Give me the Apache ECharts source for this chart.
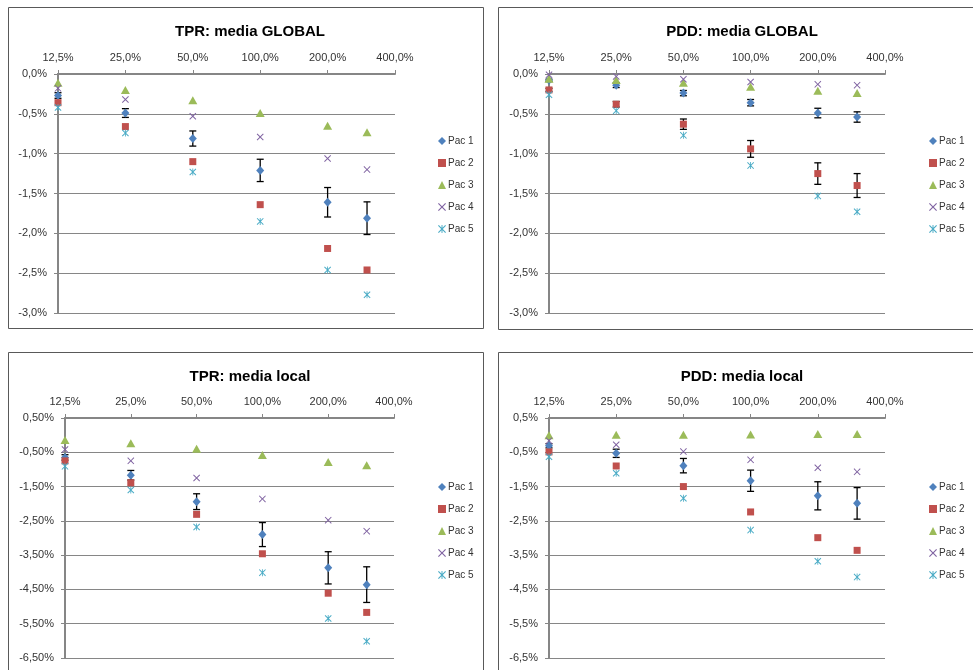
<!DOCTYPE html>
<html>
<head>
<meta charset="utf-8">
<script src="https://cdn.jsdelivr.net/npm/echarts@6/dist/echarts.min.js"></script>
<style>
  html, body { margin: 0; padding: 0; background: #fff; }
  #chart { width: 973px; height: 670px; }
</style>
</head>
<body>
<div id="chart"></div>
<script>
// Dose levels (% of reference) where each patient was measured
const doses = [12.5, 25, 50, 100, 200, 300];
const xTickValues = [12.5, 25, 50, 100, 200, 400];
const seriesNames = ['Pac 1', 'Pac 2', 'Pac 3', 'Pac 4', 'Pac 5'];
const yTicksGlobal = [-3, -2.5, -2, -1.5, -1, -0.5, 0];
const yTicksLocal = [-6.5, -5.5, -4.5, -3.5, -2.5, -1.5, -0.5, 0.5];

// TPR, global mean (%)
const tprGlobalPac1 = [-0.27, -0.49, -0.81, -1.21, -1.61, -1.81];
const tprGlobalPac1Err = [0.035, 0.055, 0.095, 0.14, 0.185, 0.205];
const tprGlobalPac2 = [-0.36, -0.66, -1.10, -1.64, -2.19, -2.46];
const tprGlobalPac3 = [-0.11, -0.20, -0.33, -0.49, -0.65, -0.73];
const tprGlobalPac4 = [-0.18, -0.32, -0.53, -0.79, -1.06, -1.20];
const tprGlobalPac5 = [-0.42, -0.74, -1.23, -1.85, -2.46, -2.77];

// PDD, global mean (%)
const pddGlobalPac1 = [-0.08, -0.14, -0.24, -0.36, -0.49, -0.54];
const pddGlobalPac1Err = [0.015, 0.03, 0.033, 0.04, 0.06, 0.065];
const pddGlobalPac2 = [-0.20, -0.38, -0.63, -0.94, -1.25, -1.40];
const pddGlobalPac2Err = [0.02, 0.035, 0.065, 0.105, 0.135, 0.15];
const pddGlobalPac3 = [-0.06, -0.075, -0.11, -0.16, -0.21, -0.24];
const pddGlobalPac4 = [-0.01, -0.03, -0.065, -0.10, -0.13, -0.14];
const pddGlobalPac5 = [-0.26, -0.46, -0.77, -1.15, -1.53, -1.73];

// TPR, local mean (%)
const tprLocalPac1 = [-0.65, -1.17, -1.94, -2.90, -3.87, -4.36];
const tprLocalPac1Err = [0.08, 0.14, 0.23, 0.35, 0.47, 0.52];
const tprLocalPac2 = [-0.75, -1.39, -2.31, -3.46, -4.61, -5.17];
const tprLocalPac3 = [-0.14, -0.24, -0.40, -0.58, -0.78, -0.88];
const tprLocalPac4 = [-0.42, -0.75, -1.25, -1.86, -2.48, -2.80];
const tprLocalPac5 = [-0.91, -1.60, -2.68, -4.01, -5.35, -6.01];

// PDD, local mean (%)
const pddLocalPac1 = [-0.31, -0.53, -0.89, -1.33, -1.77, -1.99];
const pddLocalPac1Err = [0.06, 0.12, 0.21, 0.31, 0.41, 0.46];
const pddLocalPac2 = [-0.49, -0.90, -1.50, -2.24, -2.99, -3.36];
const pddLocalPac3 = [0.00, 0.01, 0.01, 0.02, 0.03, 0.03];
const pddLocalPac4 = [-0.16, -0.28, -0.48, -0.72, -0.95, -1.07];
const pddLocalPac5 = [-0.63, -1.11, -1.84, -2.77, -3.68, -4.14];

const FONT = '"Liberation Sans", Arial, sans-serif';
const AXIS_GRAY = '#868686';
const TEXT_GRAY = '#333333';

const colors = ['#4F81BD', '#C0504D', '#9BBB59', '#8064A2', '#4BACC6'];
const CROSS = 'path://M1,0L5,4L9,0L10,1L6,5L10,9L9,10L5,6L1,10L0,9L4,5L0,1Z';
const STAR = 'path://M1,0L5,4L9,0L10,1L6,5L10,9L9,10L5,6L1,10L0,9L4,5L0,1Z M4.4,0H5.6V10H4.4Z';
const symbols = ['diamond', 'rect', 'triangle', CROSS, STAR];
const symbolSizes = [[8, 9], [7, 7], [9, 8], [7, 7], [7, 7]];

const panels = [
  {
    title: 'TPR: media GLOBAL', titleX: 245, titleY: 19,
    frame: [8, 7, 475, 321],
    grid: { left: 58, top: 74, width: 337, height: 239 },
    legend: { left: 433, top: 131 },
    yTicks: yTicksGlobal, yDigits: 1,
    values: [tprGlobalPac1, tprGlobalPac2, tprGlobalPac3, tprGlobalPac4, tprGlobalPac5],
    errors: [[0, tprGlobalPac1Err]]
  },
  {
    title: 'PDD: media GLOBAL', titleX: 737, titleY: 19,
    frame: [498, 7, 490, 322],
    grid: { left: 549, top: 74, width: 336, height: 239 },
    legend: { left: 924, top: 131 },
    yTicks: yTicksGlobal, yDigits: 1,
    values: [pddGlobalPac1, pddGlobalPac2, pddGlobalPac3, pddGlobalPac4, pddGlobalPac5],
    errors: [[0, pddGlobalPac1Err], [1, pddGlobalPac2Err]]
  },
  {
    title: 'TPR: media local', titleX: 245, titleY: 364,
    frame: [8, 352, 475, 340],
    grid: { left: 65, top: 418, width: 329, height: 240 },
    legend: { left: 433, top: 477 },
    yTicks: yTicksLocal, yDigits: 2,
    values: [tprLocalPac1, tprLocalPac2, tprLocalPac3, tprLocalPac4, tprLocalPac5],
    errors: [[0, tprLocalPac1Err]]
  },
  {
    title: 'PDD: media local', titleX: 737, titleY: 364,
    frame: [498, 352, 490, 340],
    grid: { left: 549, top: 418, width: 336, height: 240 },
    legend: { left: 924, top: 477 },
    yTicks: yTicksLocal, yDigits: 1,
    values: [pddLocalPac1, pddLocalPac2, pddLocalPac3, pddLocalPac4, pddLocalPac5],
    errors: [[0, pddLocalPac1Err]]
  }
];

// Percent label with a decimal comma, e.g. -0,5%
function fmt(v, digits) {
  let s = Number(v).toFixed(digits);
  if (/^-0\.0+$/.test(s)) s = s.slice(1);
  return s.replace('.', ',') + '%';
}

// Vertical error bar with caps, positioned through the grid's own axes
function errorBar(params, api) {
  const x = api.value(0), y = api.value(1), e = api.value(2);
  const hi = api.coord([x, y + e]);
  const lo = api.coord([x, y - e]);
  const half = 3.5;
  const style = { stroke: '#000', lineWidth: 1.3, fill: null };
  return {
    type: 'group',
    children: [
      { type: 'line', shape: { x1: hi[0], y1: hi[1], x2: lo[0], y2: lo[1] }, style },
      { type: 'line', shape: { x1: hi[0] - half, y1: hi[1], x2: hi[0] + half, y2: hi[1] }, style },
      { type: 'line', shape: { x1: lo[0] - half, y1: lo[1], x2: lo[0] + half, y2: lo[1] }, style }
    ]
  };
}

const option = {
  backgroundColor: '#fff',
  animation: false,
  textStyle: { fontFamily: FONT },
  title: [], grid: [], xAxis: [], yAxis: [], legend: [], series: [],
  graphic: []
};

panels.forEach((p, gi) => {
  option.graphic.push({
    type: 'rect', silent: true, z: -10,
    shape: { x: p.frame[0] + 0.5, y: p.frame[1] + 0.5, width: p.frame[2], height: p.frame[3] },
    style: { fill: '#fff', stroke: '#595959', lineWidth: 1 }
  });
  option.title.push({
    text: p.title, left: p.titleX, top: p.titleY, textAlign: 'center',
    textStyle: { fontFamily: FONT, fontSize: 15, fontWeight: 'bold', color: '#000' }
  });
  option.grid.push(Object.assign({ containLabel: false }, p.grid));
  option.xAxis.push({
    type: 'log', logBase: 2, gridIndex: gi, position: 'top',
    min: 12.5, max: 400,
    axisLine: { onZero: false, lineStyle: { color: AXIS_GRAY, width: 2 } },
    axisTick: { show: true, length: 4, customValues: xTickValues, lineStyle: { color: AXIS_GRAY } },
    axisLabel: {
      customValues: xTickValues, margin: 11,
      fontFamily: FONT, fontSize: 11, color: TEXT_GRAY,
      formatter: v => fmt(v, 1)
    },
    splitLine: { show: false },
    minorTick: { show: false }
  });
  const yMin = p.yTicks[0], yMax = p.yTicks[p.yTicks.length - 1];
  option.yAxis.push({
    type: 'value', gridIndex: gi, min: yMin, max: yMax,
    axisLine: { show: true, onZero: false, lineStyle: { color: AXIS_GRAY, width: 2 } },
    axisTick: { show: true, length: 4, customValues: p.yTicks, lineStyle: { color: AXIS_GRAY } },
    axisLabel: {
      customValues: p.yTicks, margin: 11,
      fontFamily: FONT, fontSize: 11, color: TEXT_GRAY,
      formatter: v => fmt(v, p.yDigits)
    },
    splitLine: { show: true, lineStyle: { color: AXIS_GRAY, width: 1 } }
  });
  option.legend.push({
    data: seriesNames, orient: 'vertical', left: p.legend.left, top: p.legend.top,
    itemWidth: 8, itemHeight: 8, itemGap: 12, selectedMode: false,
    textStyle: { fontFamily: FONT, fontSize: 10, color: TEXT_GRAY, padding: [0, 0, 0, -3] }
  });
  p.errors.forEach(([si, errs]) => {
    option.series.push({
      type: 'custom', name: 'err-' + gi + '-' + si, xAxisIndex: gi, yAxisIndex: gi,
      renderItem: errorBar, z: 1, silent: true,
      encode: { x: 0, y: 1 },
      data: doses.map((d, i) => [d, p.values[si][i], errs[i]])
    });
  });
  p.values.forEach((vals, si) => {
    option.series.push({
      type: 'scatter', name: seriesNames[si], xAxisIndex: gi, yAxisIndex: gi,
      symbol: symbols[si], symbolSize: symbolSizes[si], z: 3,
      itemStyle: { color: colors[si], opacity: 1 },
      data: doses.map((d, i) => [d, vals[i]])
    });
  });
});

const chart = echarts.init(document.getElementById('chart'), null, { renderer: 'canvas' });
chart.setOption(option);
</script>
</body>
</html>
